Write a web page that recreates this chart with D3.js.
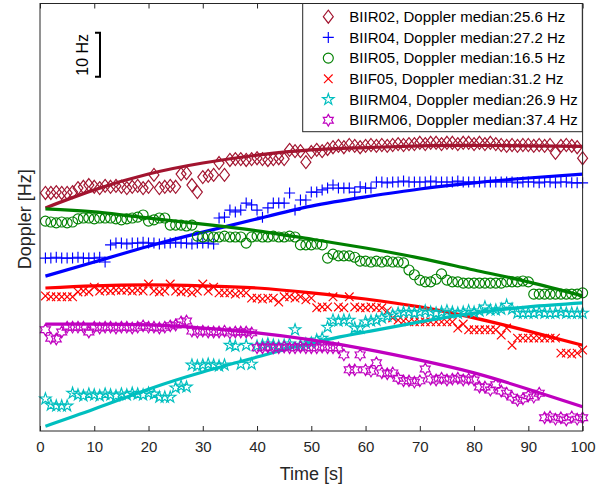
<!DOCTYPE html>
<html>
<head>
<meta charset="utf-8">
<script src="https://cdn.jsdelivr.net/npm/d3@7"></script>
<style>
  html, body { margin: 0; padding: 0; background: #fff; }
  svg { display: block; }
  text { font-family: "Liberation Sans", Arial, Helvetica, sans-serif; }
</style>
</head>
<body>
<svg id="chart" width="612" height="488"></svg>
<script>
// ---------------- DATA ----------------
const times = d3.range(1, 101);                 // sample time [s]
const fitTimes = [1, 10, 20, 30, 40, 50, 60, 70, 80, 90, 100];
const xTicks = [0, 10, 20, 30, 40, 50, 60, 70, 80, 90, 100];

const satNames = ["BIIR02", "BIIR04", "BIIR05", "BIIF05", "BIIRM04", "BIIRM06"];
const medians = [25.6, 27.2, 16.5, 31.2, 26.9, 37.4];

const biir02 = [54.1,54.1,54.3,54.1,54.1,54.3,55.2,55.5,55.9,55.5,
  55.2,55.7,55.5,55.7,55.5,55.2,55.5,55.7,55.2,55.5,
  58.2,55.2,55.5,55.7,55.5,58.4,58.6,55.9,54.3,57.7,
  58.0,58.2,60.9,58.2,61.6,61.8,61.8,61.6,61.8,62.0,
  61.8,61.6,61.8,62.0,61.8,63.9,63.6,63.6,61.1,63.4,
  63.9,63.6,64.1,64.5,64.8,64.5,65.0,64.8,64.5,64.8,
  65.0,64.8,65.0,64.8,65.0,65.2,65.0,65.2,65.2,65.5,
  65.2,65.5,65.5,65.2,65.5,65.5,65.2,65.5,65.5,65.2,
  65.5,65.2,65.5,65.2,65.0,64.8,65.0,64.8,65.0,65.0,
  64.8,65.0,64.8,65.0,63.2,64.8,65.0,64.8,64.5,62.0];
const biir04 = [39.3,39.3,39.5,39.3,39.3,39.3,39.5,39.3,39.3,39.3,
  39.5,38.4,42.3,42.7,42.7,42.5,42.7,42.7,42.9,42.7,
  42.7,42.5,42.7,42.7,42.9,42.7,42.7,42.5,42.7,42.7,
  42.7,42.5,48.4,48.6,50.2,49.8,50.2,51.8,51.4,50.2,
  48.6,50.7,51.8,51.8,51.8,54.1,50.2,52.5,52.5,54.3,
  54.3,54.8,55.2,55.9,55.2,55.2,55.2,54.3,55.5,55.2,
  55.2,56.6,56.6,56.4,56.6,56.6,56.8,56.6,56.6,56.6,
  56.6,56.8,56.6,56.6,56.6,56.6,56.8,56.6,56.6,56.6,
  56.6,56.6,56.6,56.6,56.6,56.6,56.6,56.4,56.6,56.6,
  56.6,56.4,56.6,56.6,56.4,56.6,56.6,56.4,56.4,56.4];
const biir05 = [47.7,47.5,47.3,47.5,47.3,47.5,48.2,48.4,48.4,48.2,
  48.4,48.4,48.4,48.2,48.0,48.2,48.4,48.6,49.1,47.7,
  48.0,48.4,48.4,46.8,46.8,46.8,46.6,46.8,44.3,44.1,
  44.3,44.1,44.1,44.3,44.1,44.1,44.1,42.7,44.1,44.3,
  44.1,44.1,44.3,44.1,44.1,44.3,44.1,42.3,42.3,42.3,
  42.5,42.3,39.3,40.2,39.8,39.8,39.8,39.5,38.6,38.6,
  38.4,38.6,38.4,38.6,38.4,38.4,38.2,36.6,35.5,34.3,
  33.9,33.9,34.5,35.7,34.3,33.9,33.9,33.6,33.6,33.6,
  33.6,33.6,33.6,33.6,33.6,33.9,33.9,33.9,34.1,33.9,
  31.1,31.1,31.1,31.1,31.1,31.1,31.1,31.1,31.1,31.4];
const biif05 = [30.7,30.5,30.5,30.5,30.5,30.5,31.6,31.8,31.6,32.7,
  31.8,32.0,31.8,32.0,32.0,32.0,31.8,32.0,31.8,33.4,
  31.8,31.6,31.8,33.4,31.8,31.6,31.8,31.4,31.8,33.4,
  31.8,32.7,31.4,31.4,31.4,31.1,31.4,31.4,30.2,30.2,
  30.0,30.2,30.2,29.3,30.5,30.5,30.2,30.5,29.8,30.2,
  28.0,28.2,28.2,30.5,28.2,28.0,30.5,28.2,28.0,28.0,
  28.2,28.0,28.0,27.3,25.7,25.2,25.0,24.8,24.8,24.8,
  24.8,24.8,24.8,24.8,24.8,24.8,23.4,24.3,23.0,23.0,
  23.0,23.0,23.0,23.0,21.8,23.4,19.5,21.1,21.1,21.1,
  21.1,21.1,21.1,21.1,21.1,17.7,17.7,17.5,17.7,18.4];
const biirm04 = [7.3,5.9,5.7,5.7,5.7,8.6,8.2,8.0,8.4,8.2,
  8.0,8.4,8.2,8.0,8.4,8.2,8.6,8.4,8.2,8.6,
  8.4,7.7,7.7,7.7,9.8,10.2,10.0,15.0,14.8,15.0,
  15.2,15.0,14.8,15.0,19.5,19.3,15.2,19.5,15.2,19.3,
  19.5,19.8,19.5,19.3,19.5,19.8,23.0,19.5,19.8,20.0,
  20.7,21.1,23.6,25.2,25.0,25.2,25.2,23.4,23.4,24.8,
  25.0,25.2,25.7,26.1,26.4,26.8,27.0,27.0,26.8,27.0,
  27.3,27.0,26.8,27.0,27.3,27.0,26.8,27.0,27.3,27.0,
  27.3,28.2,27.5,27.5,27.7,28.6,27.7,26.8,26.8,26.8,
  26.8,27.0,26.8,26.8,26.8,27.0,26.8,26.8,26.8,26.8];
const biirm06 = [23.0,21.1,20.9,22.5,23.6,23.6,23.6,23.6,22.5,23.6,
  23.4,23.6,23.6,23.4,23.6,23.6,23.4,23.6,23.9,23.6,
  23.6,23.4,23.6,23.9,24.1,24.8,25.0,22.7,22.5,22.7,
  22.5,22.5,22.5,22.7,22.3,22.5,22.5,22.5,22.3,18.9,
  18.9,19.1,18.9,18.9,19.1,18.9,18.9,19.1,18.9,18.9,
  18.9,19.1,18.9,18.9,18.9,17.3,13.9,13.9,17.3,13.9,
  13.6,15.5,13.2,13.0,13.2,12.0,11.4,11.4,11.1,11.4,
  14.1,11.8,11.6,12.0,11.6,11.8,12.0,11.6,11.8,11.6,
  10.0,10.0,9.3,10.5,9.1,8.6,7.7,7.0,7.3,8.0,
  7.7,8.6,3.0,3.2,2.7,3.0,2.5,3.2,2.7,3.0];

// fitted curves sampled at fitTimes
const biir02Fit  = [50.7, 54.8, 58.4, 60.9, 62.7, 63.9, 64.4, 64.8, 64.9, 64.8, 64.7];
const biir04Fit  = [35.2, 38.4, 42.0, 45.2, 48.2, 51.1, 53.2, 55.0, 56.4, 57.5, 58.4];
const biir05Fit  = [50.5, 49.8, 48.4, 47.0, 45.5, 43.6, 41.6, 39.3, 36.6, 33.9, 30.7];
const biif05Fit  = [32.5, 33.0, 33.2, 33.0, 32.5, 31.4, 30.0, 28.2, 25.7, 22.7, 19.5];
const biirm04Fit = [1.1, 5.0, 9.5, 13.4, 16.8, 20.0, 22.5, 24.8, 26.8, 28.2, 29.1];
const biirm06Fit = [24.3, 24.3, 24.1, 23.4, 22.3, 20.7, 18.6, 16.1, 13.2, 9.5, 5.5];

const scaleBarHz = 10;          // length of the scale bar in Hz
const scaleBarTopHz = 90.5;     // value at top of scale bar

// ---------------- STYLE ----------------
const colors = ["#A2142F", "#0000FF", "#008000", "#FF0000", "#00BFBF", "#BF00BF"];
const markerKinds = ["diamond", "plus", "circle", "x", "pentagram", "hexagram"];

const series = satNames.map((n, i) => ({
  name: n,
  label: `${n}, Doppler median:${medians[i].toFixed(1)} Hz`,
  values: [biir02, biir04, biir05, biif05, biirm04, biirm06][i],
  fit: [biir02Fit, biir04Fit, biir05Fit, biif05Fit, biirm04Fit, biirm06Fit][i],
  color: colors[i],
  marker: markerKinds[i]
}));

// ---------------- LAYOUT ----------------
const svg = d3.select("#chart");
const L = 40, R = 582.6, T = 3.5, B = 431;
const x = d3.scaleLinear().domain([0, 100]).range([L, R]);
const y = d3.scaleLinear().domain([0, 97]).range([B, B - 97 * 4.4]);
const axisColor = "#262626";

function starPath(points, Ro, Ri) {
  const pts = [];
  for (let k = 0; k < points * 2; k++) {
    const r = k % 2 === 0 ? Ro : Ri;
    const a = -Math.PI / 2 + k * Math.PI / points;
    pts.push([r * Math.cos(a), r * Math.sin(a)]);
  }
  return "M" + pts.map(p => p[0].toFixed(2) + "," + p[1].toFixed(2)).join("L") + "Z";
}
const circlePath = (() => { const p = d3.path(); p.arc(0, 0, 5, 0, 2 * Math.PI); p.closePath(); return p.toString(); })();
const markerPaths = {
  diamond: "M0,-6.5L5,0L0,6.5L-5,0Z",
  plus: "M-5.5,0H5.5M0,-5.5V5.5",
  circle: circlePath,
  x: "M-4.3,-4.3L4.3,4.3M-4.3,4.3L4.3,-4.3",
  pentagram: starPath(5, 6, 6 * 0.382),
  hexagram: starPath(6, 5.8, 5.8 / Math.sqrt(3))
};

// white background
svg.append("rect").attr("width", 612).attr("height", 488).attr("fill", "#fff");

// ---------------- SERIES ----------------
const line = d3.line().x((d, i) => x(fitTimes[i])).y(d => y(d)).curve(d3.curveNatural);
const gData = svg.append("g");
series.forEach(s => {
  const g = gData.append("g");
  g.selectAll("path.m").data(s.values).join("path")
    .attr("class", "m")
    .attr("d", markerPaths[s.marker])
    .attr("transform", (d, i) => `translate(${x(times[i])},${y(d)})`)
    .attr("fill", "none")
    .attr("stroke", s.color)
    .attr("stroke-width", 1.15);
  g.append("path")
    .datum(s.fit)
    .attr("d", line)
    .attr("fill", "none")
    .attr("stroke", s.color)
    .attr("stroke-width", 3.2);
});

// ---------------- AXES / BOX ----------------
const xAxisB = d3.axisBottom(x).tickValues(xTicks).tickSize(-5).tickPadding(10).tickFormat(d3.format("d"));
const gxb = svg.append("g").attr("transform", `translate(0,${B})`).call(xAxisB);
gxb.select(".domain").remove();
gxb.selectAll("line").attr("stroke", axisColor);
gxb.selectAll("text").attr("fill", axisColor).attr("font-size", 15)
  .attr("font-family", "'Liberation Sans', Arial, sans-serif");

const xAxisT = d3.axisTop(x).tickValues(xTicks).tickSize(-5).tickFormat("");
const gxt = svg.append("g").attr("transform", `translate(0,${T})`).call(xAxisT);
gxt.select(".domain").remove();
gxt.selectAll("line").attr("stroke", axisColor);

svg.append("rect")
  .attr("x", L).attr("y", T).attr("width", R - L).attr("height", B - T)
  .attr("fill", "none").attr("stroke", axisColor).attr("stroke-width", 1);

// axis labels
svg.append("text")
  .attr("x", (L + R) / 2).attr("y", 480)
  .attr("text-anchor", "middle").attr("font-size", 18).attr("fill", axisColor)
  .text("Time [s]");
svg.append("text")
  .attr("transform", `translate(31,${(B + T) / 2 + 2}) rotate(-90)`)
  .attr("text-anchor", "middle").attr("font-size", 18).attr("fill", axisColor)
  .text("Doppler [Hz]");

// ---------------- SCALE BAR ----------------
const sbX = 100;
const sbTop = y(scaleBarTopHz), sbBot = y(scaleBarTopHz - scaleBarHz);
svg.append("path")
  .attr("d", `M${sbX - 5},${sbTop}H${sbX}V${sbBot}H${sbX - 5}`)
  .attr("fill", "none").attr("stroke", "#000").attr("stroke-width", 2);
svg.append("text")
  .attr("transform", `translate(${sbX - 12},${(sbTop + sbBot) / 2}) rotate(-90)`)
  .attr("text-anchor", "middle").attr("font-size", 16).attr("fill", "#000")
  .text(`${scaleBarHz} Hz`);

// ---------------- LEGEND ----------------
const lg = svg.append("g");
lg.append("rect")
  .attr("x", 302.7).attr("y", T).attr("width", 582.3 - 302.7).attr("height", 131.7 - T)
  .attr("fill", "#fff").attr("stroke", axisColor).attr("stroke-width", 1);
series.forEach((s, i) => {
  const cy = 16.7 + i * 20.7;
  lg.append("path")
    .attr("d", markerPaths[s.marker])
    .attr("transform", `translate(328.3,${cy})`)
    .attr("fill", "none").attr("stroke", s.color).attr("stroke-width", 1.15);
  lg.append("text")
    .attr("x", 349.3).attr("y", cy + 5.2)
    .attr("font-size", 15).attr("fill", "#000")
    .text(s.label);
});
</script>
</body>
</html>
